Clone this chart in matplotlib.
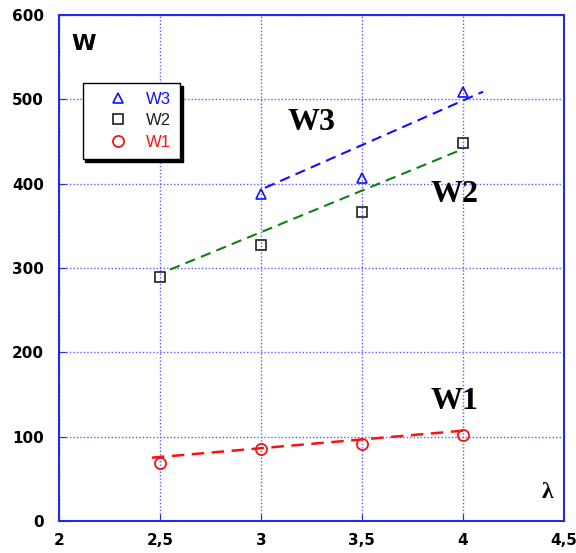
import matplotlib.pyplot as plt
import numpy as np

# measured points
lam = [2.5, 3.0, 3.5, 4.0]
w1 = [69, 85, 91, 102]
w2 = [289, 327, 366, 448]
lam_w3 = [3.0, 3.5, 4.0]
w3 = [388, 407, 509]

# dashed trend lines (end points)
fit1_x = [2.46, 4.0]
fit1_y = [75, 107]
fit2_x = [2.55, 4.0]
fit2_y = [298, 441]
fit3_x = [3.02, 4.10]
fit3_y = [395, 509]

xticks = [2, 2.5, 3, 3.5, 4, 4.5]
xticklabels = ['2', '2,5', '3', '3,5', '4', '4,5']
yticks = [0, 100, 200, 300, 400, 500, 600]

blue = '#2828e6'
grid_blue = '#5a5aff'

fig = plt.figure(figsize=(5.76, 5.53), dpi=100)
ax = fig.add_axes([0.1024, 0.058, 0.8766, 0.915])

ax.plot(fit3_x, fit3_y, '--', color='#1010ff', lw=1.5, dashes=(5, 3))
ax.plot(fit2_x, fit2_y, '--', color='#108010', lw=1.5, dashes=(5, 3))
ax.plot(fit1_x, fit1_y, '--', color='#ff1010', lw=1.8, dashes=(5, 3))

ax.plot(lam_w3, w3, '^', ls='none', mfc='none', mec='#1010ff', ms=7, mew=1.2, label='W3')
ax.plot(lam, w2, 's', ls='none', mfc='none', mec='#202020', ms=6.5, mew=1.2, label='W2')
ax.plot(lam, w1, 'o', ls='none', mfc='none', mec='#ff1010', ms=8, mew=1.3, label='W1')

ax.set_xlim(2, 4.5)
ax.set_ylim(0, 600)
ax.set_xticks(xticks)
ax.set_xticklabels(xticklabels)
ax.set_yticks(yticks)
ax.grid(True, color=grid_blue, ls=(0, (1, 1.5)), lw=1)
ax.tick_params(direction='in', length=5, color=blue, labelsize=11)
ax.tick_params(axis='y', pad=11)
ax.tick_params(axis='x', pad=9)
for lbl in ax.get_xticklabels() + ax.get_yticklabels():
    lbl.set_fontweight('bold')
for sp in ax.spines.values():
    sp.set_color(blue)
    sp.set_linewidth(1.5)

ax.text(2.12, 565, 'W', fontsize=16, fontweight='bold', ha='center', va='center')
ax.text(4.42, 34, 'λ', fontsize=17, fontweight='bold', family='Liberation Serif',
        ha='center', va='center')
ax.text(3.25, 473, 'W3', fontsize=23, fontweight='bold', family='Liberation Serif',
        ha='center', va='center')
ax.text(3.96, 387, 'W2', fontsize=23, fontweight='bold', family='Liberation Serif',
        ha='center', va='center')
ax.text(3.96, 142, 'W1', fontsize=23, fontweight='bold', family='Liberation Serif',
        ha='center', va='center')

leg = ax.legend(loc='upper left', bbox_to_anchor=(0.047, 0.866), borderaxespad=0,
                fancybox=False, edgecolor='black', framealpha=1,
                prop={'family': 'Liberation Sans', 'size': 12},
                borderpad=0.55, labelspacing=0.38, handlelength=3.1, handletextpad=0.15,
                shadow={'color': 'black', 'alpha': 1, 'ox': 2, 'oy': -2})
leg.get_frame().set_linewidth(1)
for txt, c in zip(leg.get_texts(), ['#1010ff', '#202020', '#ff1010']):
    txt.set_color(c)

fig.savefig('out.png', dpi=100)
